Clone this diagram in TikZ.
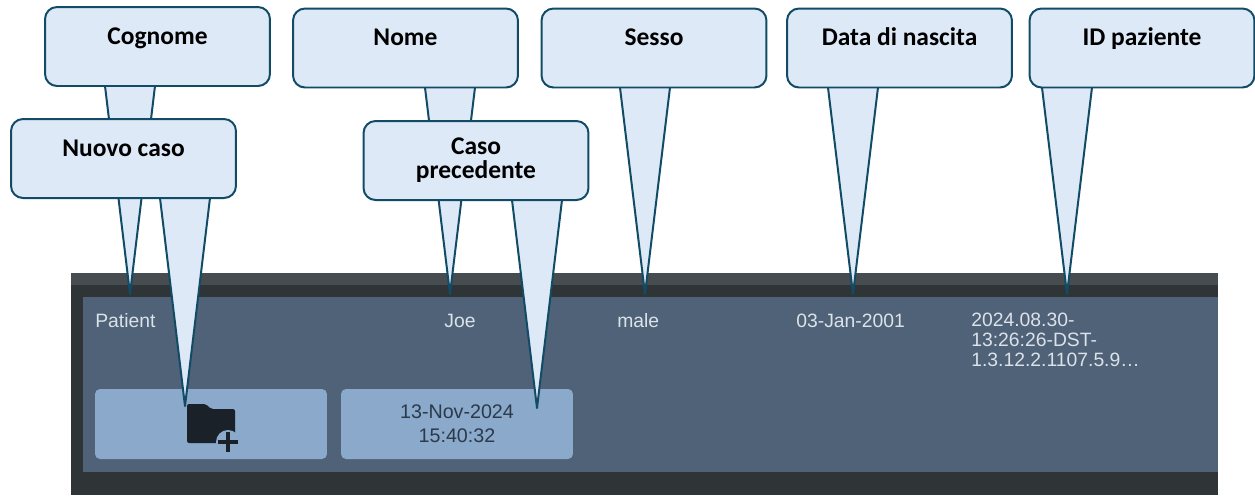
\documentclass[tikz,border=0pt]{standalone}
\usepackage{fontspec}
\setmainfont{Carlito}
\newfontfamily\uifont{Liberation Sans}
\usetikzlibrary{calc,backgrounds}

\definecolor{callfill}{RGB}{221,233,246}
\definecolor{callline}{RGB}{17,75,102}
\definecolor{topband}{RGB}{70,76,80}
\definecolor{darkrow}{RGB}{47,52,55}
\definecolor{rowpanel}{RGB}{79,98,119}
\definecolor{btnfill}{RGB}{139,169,202}
\definecolor{uitext}{RGB}{220,226,234}
\definecolor{btntext}{RGB}{43,58,75}
\definecolor{iconcol}{RGB}{27,33,41}

\begin{document}
\begin{tikzpicture}[x=0.02cm,y=-0.02cm,
  callbox/.style={draw=callline, fill=callfill, line width=0.04cm, rounded corners=0.24cm,
    minimum width=4.5cm, minimum height=1.58cm, inner sep=0pt, outer sep=0pt,
    font=\bfseries\fontsize{14.5}{13.6}\selectfont, align=center},
  oneline/.style={text height=7pt, text depth=9.3pt},
  wedge/.style={draw=callline, fill=callfill, line width=0.04cm, line join=round},
  btn/.style={fill=btnfill, rounded corners=0.1cm, minimum width=4.64cm, minimum height=1.4cm, inner sep=0pt},
  ui/.style={text=uitext, inner sep=0pt, font=\uifont\fontsize{11}{11.2}\selectfont}]
  \useasboundingbox (0,0) rectangle (1255,495);

  % Screenshot of the patient row
  \begin{scope}[on background layer]
    \fill[topband] (71,273) rectangle (1218,495);
    \fill[darkrow] (71,285) rectangle (1218,495);
    \fill[rowpanel] (83,297) rectangle (1218,472);
    \node[btn] (newbtn) at (211,424) {};
    \node[btn, text=btntext, align=center, font=\uifont\fontsize{11.2}{13.6}\selectfont] (prevbtn) at (457,424) {13-Nov-2024\\15:40:32};
    \fill[iconcol, rounded corners=0.04cm] (187,404) -- (206,404) -- (211,409) -- (235,409) -- (235,443) -- (187,443) -- cycle;
    \fill[btnfill] (228,442) circle (0.24cm);
    \draw[iconcol, line width=0.07cm] (218,442) -- (238,442) (228,432) -- (228,452);
    \node[ui, anchor=base west] (pat) at (95,327) {Patient};
    \node[ui, anchor=base] (first) at (460,327) {Joe};
    \node[ui, anchor=base west] (sex) at (617,327) {male};
    \node[ui, anchor=base west] (dob) at (796,327) {03-Jan-2001};
    \node[ui, anchor=north west, align=left] (idval) at (971,313) {2024.08.30-\\13:26:26-DST-\\1.3.12.2.1107.5.9…};
  \end{scope}

  % Define callouts
  \node[callbox, oneline] (cog) at (157.5,46.5) {Cognome};
  \node[callbox, oneline] (nome) at (405.5,48) {Nome};
  \node[callbox, oneline] (sesso) at (654,48) {Sesso};
  \node[callbox, oneline] (data) at (899.5,48) {Data di nascita};
  \node[callbox, oneline] (pid) at (1142,48) {ID paziente};
  \node[callbox, oneline] (nuovo) at (123.5,158.5) {Nuovo caso};
  \node[callbox] (caso) at (476,160.5) {Caso\\precedente};

  % Pointer tips
  \coordinate (tcog) at (130,294);
  \coordinate (tnome) at (450,294);
  \coordinate (tsesso) at (645,294);
  \coordinate (tdata) at (853,294);
  \coordinate (tpid) at (1067,294);
  \coordinate (tnuovo) at (185,406);
  \coordinate (tcaso) at (537,408);

  % Draw pointers behind the boxes
  \begin{scope}[on background layer]
    \draw[wedge] ($(tcog |- cog.south)+(-25,0)$) -- (tcog) -- ($(tcog |- cog.south)+(25,0)$);
    \draw[wedge] ($(tnome |- nome.south)+(-25,0)$) -- (tnome) -- ($(tnome |- nome.south)+(25,0)$);
    \draw[wedge] ($(tsesso |- sesso.south)+(-25,0)$) -- (tsesso) -- ($(tsesso |- sesso.south)+(25,0)$);
    \draw[wedge] ($(tdata |- data.south)+(-25,0)$) -- (tdata) -- ($(tdata |- data.south)+(25,0)$);
    \draw[wedge] ($(tpid |- pid.south)+(-25,0)$) -- (tpid) -- ($(tpid |- pid.south)+(25,0)$);
    \draw[wedge] ($(tnuovo |- nuovo.south)+(-25,0)$) -- (tnuovo) -- ($(tnuovo |- nuovo.south)+(25,0)$);
    \draw[wedge] ($(tcaso |- caso.south)+(-25,0)$) -- (tcaso) -- ($(tcaso |- caso.south)+(25,0)$);
  \end{scope}
\end{tikzpicture}
\end{document}
